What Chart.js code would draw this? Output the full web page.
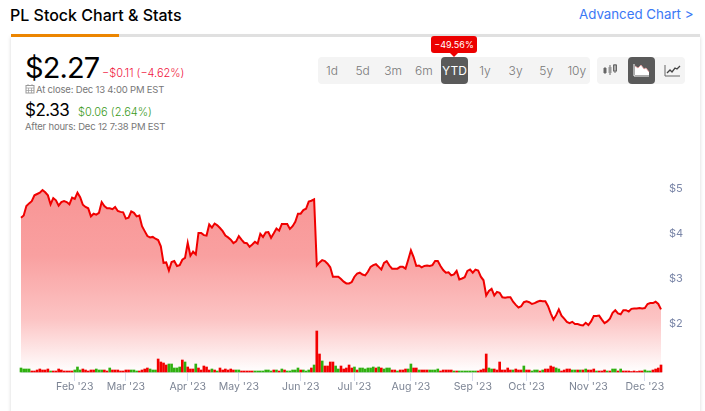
<!DOCTYPE html>
<html>
<head>
<meta charset="utf-8">
<title>PL Stock Chart</title>
<script src="https://cdn.jsdelivr.net/npm/chart.js@4"></script>
<style>
html, body { margin: 0; padding: 0; background: #fff; overflow: hidden; }
body { width: 705px; height: 411px; position: relative; font-family: "Inter", sans-serif; color: #000; }
.t { position: absolute; white-space: nowrap; line-height: 1; }
#card { position: absolute; left: 11px; top: 37px; width: 689px; height: 400px; background: #fff; box-shadow: 0 0 4px rgba(0,0,0,.16); }
#bar { position: absolute; left: 11px; top: 34px; width: 689px; height: 3px; background: #e0e0e0; }
#bar div { width: 108px; height: 3px; background: #ec8500; }
.group { position: absolute; top: 57px; height: 27px; background: #f4f4f4; border-radius: 4px; }
.btn { position: absolute; top: 57px; height: 27px; line-height: 27px; text-align: center; font-size: 12px; color: #777; font-weight: 300; }
.btn.on { background: #5a5a5a; color: #fff; border-radius: 4px; font-weight: 400; }
#tip { position: absolute; left: 431px; top: 36px; width: 46px; height: 17px; line-height: 17px; background: #ec0000; color: #fff; font-size: 9px; text-align: center; border-radius: 3px; }
#tip:after { content: ""; position: absolute; left: 19px; top: 17px; border: 4px solid transparent; border-top-color: #ec0000; }
svg { position: absolute; }
#wrap { position: absolute; left: 0; top: 150px; width: 705px; height: 261px; }
</style>
</head>
<body>
<div class="t" style="left:10px;top:7px;font-size:16px;font-weight:500;">PL Stock Chart &amp; Stats</div>
<div class="t" style="left:579px;top:8px;font-size:13.3px;color:#3b78f5;">Advanced Chart &gt;</div>
<div id="card"></div>
<div id="bar"><div></div></div>

<div class="t" style="left:25px;top:53px;font-size:29px;letter-spacing:-0.9px;">$2.27</div>
<div class="t" style="left:102px;top:68px;font-size:11px;color:#f0143c;font-weight:300;">−$0.11 (−4.62%)</div>
<svg style="left:25px;top:84px" width="10" height="10" viewBox="0 0 10 10"><rect x="1" y="1.5" width="8" height="7.5" fill="none" stroke="#999"/><path d="M1 4h8M3.5 4v5M6.5 4v5M1 6.5h8M3 0v2M7 0v2" stroke="#999" stroke-width=".7"/></svg>
<div class="t" style="left:36px;top:85px;font-size:9.5px;letter-spacing:-0.18px;color:#777;">At close: Dec 13 4:00 PM EST</div>
<div class="t" style="left:25px;top:102px;font-size:17px;letter-spacing:-0.5px;">$2.33</div>
<div class="t" style="left:78px;top:107px;font-size:11px;color:#3a9a1a;font-weight:300;">$0.06 (2.64%)</div>
<div class="t" style="left:25px;top:122px;font-size:9.5px;letter-spacing:-0.18px;color:#777;">After hours: Dec 12 7:38 PM EST</div>

<div class="group" style="left:318px;width:272px;"></div>
<div class="group" style="left:597px;width:88px;"></div>
<div id="ranges"></div>
<div id="tip">−49.56%</div>
<div class="btn on" style="left:628px;width:27px;"></div>
<svg style="left:602px;top:63px" width="16" height="15" viewBox="0 0 16 15"><path d="M3 4v7M8 2v10M13 1v9" stroke="#666" fill="none"/><rect x="1.5" y="5" width="3" height="5" fill="#666"/><rect x="6.5" y="4" width="3" height="6" fill="#999"/><rect x="11.5" y="2" width="3" height="6" fill="none" stroke="#666"/></svg>
<svg style="left:633px;top:63px" width="17" height="15" viewBox="0 0 17 15"><path d="M1 1v12h15" stroke="#fff" fill="none"/><path d="M2 12V3l3 2 3-3 3 4 2-1 3 4v3z" fill="#fff"/><path d="M2 3l3 2 3-3 3 4 2-1 3 4" stroke="#f4a0a0" fill="none" stroke-width=".7"/></svg>
<svg style="left:664px;top:63px" width="17" height="15" viewBox="0 0 17 15"><path d="M1 2v11h15" stroke="#666" fill="none"/><path d="M3 10l3-3 2 2 3-4 2 1 3-3" stroke="#444" fill="none" stroke-width="1.3"/></svg>

<div id="wrap"><canvas id="stockChart"></canvas></div>

<script>
// daily closes, Jan 3 to Dec 13 2023
const prices = [
    4.36, 4.41, 4.62, 4.68, 4.73, 4.86, 4.89, 4.92, 4.98, 4.93,
    4.86, 4.66, 4.80, 4.75, 4.63, 4.71, 4.73, 4.71, 4.66, 4.81,
    4.78, 4.92, 4.82, 4.65, 4.60, 4.57, 4.39, 4.45, 4.43, 4.47,
    4.71, 4.62, 4.57, 4.57, 4.55, 4.60, 4.51, 4.49, 4.48, 4.34,
    4.36, 4.50, 4.47, 4.39, 4.41, 4.17, 4.06, 3.95, 3.92, 3.93,
    3.89, 3.86, 3.72, 3.35, 3.36, 3.18, 3.37, 3.39, 3.28, 3.30,
    3.42, 3.46, 3.80, 3.51, 3.60, 3.54, 4.02, 4.02, 3.97, 3.96,
    4.21, 4.14, 4.23, 4.19, 4.13, 4.06, 3.96, 3.92, 3.87, 3.79,
    3.83, 3.95, 3.87, 3.80, 3.79, 3.71, 3.76, 3.82, 3.78, 4.00,
    3.93, 4.03, 4.04, 3.91, 4.01, 4.12, 4.07, 4.22, 4.22, 4.22,
    4.11, 4.17, 4.27, 4.45, 4.45, 4.53, 4.56, 4.72, 4.74, 4.77,
    3.29, 3.36, 3.41, 3.39, 3.33, 3.25, 3.04, 3.04, 3.04, 2.99,
    2.93, 2.89, 2.89, 2.92, 3.04, 3.11, 3.13, 3.09, 3.07, 3.15,
    3.26, 3.30, 3.32, 3.26, 3.20, 3.35, 3.39, 3.29, 3.22, 3.22,
    3.22, 3.26, 3.26, 3.22, 3.42, 3.63, 3.48, 3.28, 3.29, 3.25,
    3.28, 3.29, 3.28, 3.30, 3.39, 3.39, 3.28, 3.19, 3.13, 3.14,
    3.07, 3.09, 3.17, 2.98, 3.00, 3.03, 3.17, 3.20, 3.13, 3.20,
    3.18, 3.04, 2.96, 2.62, 2.72, 2.77, 2.62, 2.70, 2.68, 2.58,
    2.57, 2.58, 2.58, 2.48, 2.41, 2.35, 2.38, 2.47, 2.49, 2.47,
    2.43, 2.45, 2.48, 2.50, 2.49, 2.49, 2.38, 2.22, 2.08, 2.18,
    2.31, 2.17, 2.10, 2.03, 2.00, 2.03, 1.98, 1.98, 1.96, 1.95,
    2.01, 1.96, 2.04, 2.16, 2.16, 2.17, 2.08, 2.00, 2.04, 2.10,
    2.23, 2.29, 2.22, 2.20, 2.29, 2.29, 2.26, 2.32, 2.33, 2.33,
    2.34, 2.33, 2.34, 2.43, 2.45, 2.45, 2.48, 2.43, 2.31
];

const volumes = [
    4, 3, 3, 3, 1, 1, 2, 3, 2, 2,
    3, 1, 1, 1, 3, 2, 1, 1, 1, 1,
    2, 5, 2, 3, 2, 1, 2, 2, 3, 2,
    2, 2, 1, 4, 2, 2, 2, 1, 1, 2,
    2, 2, 2, 1, 1, 2, 3, 4, 3, 2,
    2, 13, 10, 9, 7, 8, 8, 4, 4, 5,
    12, 10, 5, 3, 3, 8, 4, 2, 6, 5,
    2, 3, 2, 1, 4, 2, 3, 2, 3, 2,
    2, 2, 1, 1, 1, 1, 1, 1, 1, 1,
    1, 2, 2, 1, 2, 2, 1, 3, 2, 1,
    1, 2, 2, 4, 2, 2, 1, 2, 4, 7,
    41, 18, 11, 6, 6, 10, 10, 6, 3, 6,
    3, 4, 7, 4, 5, 2, 4, 4, 3, 4,
    4, 5, 4, 5, 4, 3, 4, 4, 2, 2,
    1, 2, 2, 3, 3, 8, 4, 4, 2, 2,
    2, 2, 2, 2, 2, 3, 1, 2, 2, 2,
    2, 1, 1, 1, 1, 1, 1, 1, 1, 1,
    1, 2, 3, 18, 4, 3, 3, 2, 10, 2,
    2, 4, 2, 2, 3, 2, 2, 6, 2, 2,
    1, 2, 2, 1, 2, 3, 3, 6, 5, 4,
    3, 1, 2, 3, 3, 2, 2, 2, 2, 2,
    3, 2, 2, 3, 1, 1, 1, 2, 1, 1,
    3, 3, 1, 3, 1, 1, 1, 0.5, 1, 0.5,
    1, 1, 2, 1, 1, 2, 3, 4, 7
];

// 1 = green bar, 0 = red bar
const volumeUp = [
    1, 1, 1, 1, 0, 0, 0, 0, 0, 0,
    0, 1, 0, 0, 0, 0, 0, 0, 0, 0,
    1, 1, 1, 0, 0, 0, 0, 0, 1, 1,
    1, 0, 0, 1, 0, 0, 0, 0, 0, 0,
    0, 1, 1, 1, 0, 0, 0, 0, 1, 1,
    1, 0, 0, 0, 0, 1, 1, 1, 1, 1,
    0, 1, 0, 0, 0, 1, 0, 0, 0, 0,
    0, 1, 0, 1, 0, 0, 0, 0, 0, 0,
    1, 1, 0, 0, 0, 0, 0, 1, 1, 1,
    1, 1, 1, 1, 0, 1, 0, 1, 0, 1,
    1, 1, 1, 1, 0, 1, 1, 1, 0, 1,
    0, 0, 1, 0, 0, 0, 0, 1, 1, 0,
    0, 0, 0, 0, 1, 0, 1, 1, 1, 1,
    1, 1, 0, 1, 0, 1, 1, 1, 0, 0,
    1, 0, 0, 0, 1, 1, 0, 0, 1, 0,
    0, 0, 1, 1, 1, 1, 0, 0, 0, 0,
    0, 1, 0, 1, 1, 1, 1, 1, 1, 1,
    0, 0, 0, 0, 1, 1, 0, 0, 0, 0,
    0, 0, 0, 1, 0, 0, 0, 1, 0, 0,
    1, 1, 1, 0, 1, 0, 0, 0, 0, 1,
    1, 0, 0, 0, 0, 1, 1, 0, 1, 0,
    1, 0, 0, 0, 1, 0, 0, 0, 1, 0,
    1, 1, 0, 1, 0, 0, 0, 0, 0, 0,
    0, 0, 1, 1, 1, 0, 0, 0, 0
];

const monthLabels = ["Feb '23", "Mar '23", "Apr '23", "May '23", "Jun '23", "Jul '23", "Aug '23", "Sep '23", "Oct '23", "Nov '23", "Dec '23"];
const monthTicks = [20, 39, 62, 81, 104, 124, 145, 168, 188, 211, 232];
const priceTicks = [5, 4, 3, 2];
const rangeLabels = ['1d', '5d', '3m', '6m', 'YTD', '1y', '3y', '5y', '10y'];

// range buttons
rangeLabels.forEach((label, i) => {
    const b = document.createElement('div');
    b.className = 'btn' + (label === 'YTD' ? ' on' : '');
    b.style.left = (label === 'YTD' ? 441 : 317 + i * 30.6) + 'px';
    b.style.width = (label === 'YTD' ? 27 : 30) + 'px';
    b.textContent = label;
    document.getElementById('ranges').appendChild(b);
});

const sessions = prices.map((p, i) => i);

function areaGradient(ctx) {
    const area = ctx.chart.chartArea;
    if (!area) return 'rgba(240,0,0,0.4)';
    const g = ctx.chart.ctx.createLinearGradient(0, area.top, 0, area.bottom);
    g.addColorStop(0, '#f79090');
    g.addColorStop(0.45, '#f9a0a0');
    g.addColorStop(0.75, '#fcc4c4');
    g.addColorStop(1, '#ffffff');
    return g;
}

new Chart(document.getElementById('stockChart'), {
    data: {
        labels: sessions,
        datasets: [
            {
                type: 'bar',
                data: volumes,
                yAxisID: 'yVol',
                order: 1,
                barThickness: 2,
                clip: false,
                backgroundColor: volumeUp.map(u => u ? '#2fb00f' : '#f30000')
            },
            {
                type: 'line',
                data: prices,
                yAxisID: 'y',
                order: 2,
                borderColor: '#f00000',
                borderWidth: 2,
                pointRadius: 0,
                tension: 0,
                fill: 'start',
                backgroundColor: areaGradient
            }
        ]
    },
    options: {
        responsive: true,
        maintainAspectRatio: false,
        animation: false,
        events: [],
        layout: { padding: { left: 21, top: 10, right: 0, bottom: 0 } },
        plugins: { legend: { display: false }, tooltip: { enabled: false } },
        scales: {
            x: {
                type: 'category',
                offset: false,
                afterBuildTicks: s => { s.ticks = monthTicks.map(v => ({ value: v })); },
                afterFit: s => { s.height = 39; s.paddingLeft = 0; s.paddingRight = 0; },
                grid: { drawOnChartArea: false, drawTicks: true, tickLength: 9, tickColor: '#d5dcee', offset: false },
                border: { color: '#e2e6f2' },
                ticks: {
                    autoSkip: false,
                    maxRotation: 0,
                    padding: 0,
                    color: '#7c8494',
                    font: { family: 'Inter', size: 10.5 },
                    callback: (v) => monthLabels[monthTicks.indexOf(v)]
                }
            },
            y: {
                position: 'right',
                min: 0.908,
                max: 5.651,
                afterBuildTicks: s => { s.ticks = priceTicks.map(v => ({ value: v })); },
                afterFit: s => { s.width = 44; s.paddingTop = 0; s.paddingBottom = 0; },
                grid: { display: false, drawTicks: false },
                border: { display: false },
                ticks: {
                    padding: 8,
                    color: '#7a86a8',
                    font: { family: 'Inter', size: 11 },
                    callback: v => '$' + v
                }
            },
            yVol: {
                display: false,
                min: 0,
                max: 212
            }
        }
    }
});
</script>
</body>
</html>
